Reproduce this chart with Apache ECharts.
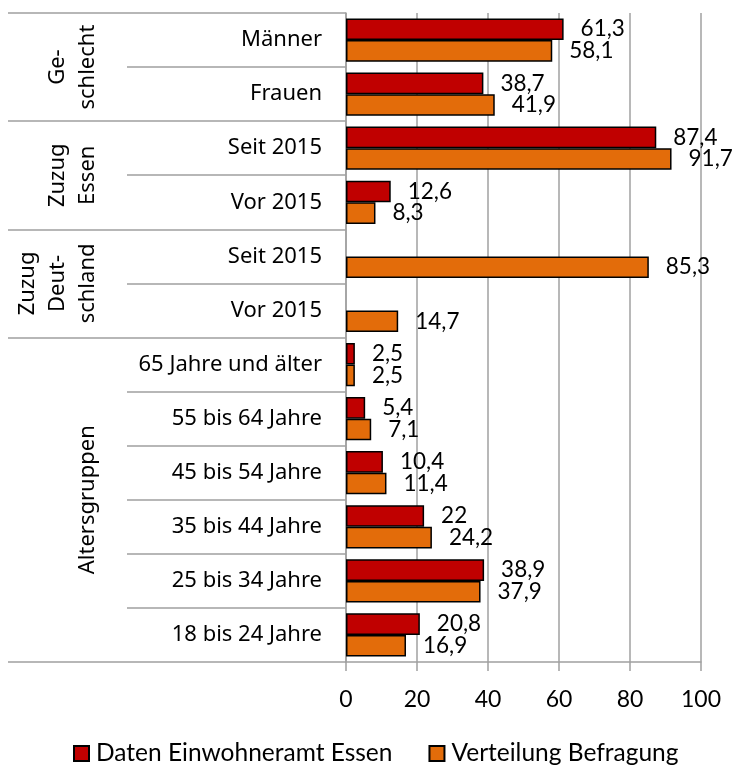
<!DOCTYPE html>
<html>
<head>
<meta charset="utf-8">
<script src="https://cdn.jsdelivr.net/npm/echarts@6/dist/echarts.min.js"></script>
<style>
    html, body { margin: 0; padding: 0; background: #fff; }
    #myChart { width: 736px; height: 767px; }
</style>
</head>
<body>
<div id="myChart"></div>
<script>
    // Kategorien (von oben nach unten)
    const categories = ['Männer', 'Frauen', 'Seit 2015', 'Vor 2015', 'Seit 2015', 'Vor 2015',
        '65 Jahre und älter', '55 bis 64 Jahre', '45 bis 54 Jahre', '35 bis 44 Jahre',
        '25 bis 34 Jahre', '18 bis 24 Jahre'];
    // Gruppen und Anzahl der Kategorien je Gruppe
    const groupNames = ['Ge-\nschlecht', 'Zuzug\nEssen', 'Zuzug\nDeut-\nschland', 'Altersgruppen'];
    const groupSizes = [2, 2, 2, 6];
    // Werte
    const einwohneramt = [61.3, 38.7, 87.4, 12.6, null, null, 2.5, 5.4, 10.4, 22, 38.9, 20.8];
    const befragung = [58.1, 41.9, 91.7, 8.3, 85.3, 14.7, 2.5, 7.1, 11.4, 24.2, 37.9, 16.9];
    const xTicks = [0, 20, 40, 60, 80, 100];

    const gray = '#a0a0a0';
    const labelFont = 'Lato';
    const catFont = '"Noto Sans"';

    // Gruppenanfänge als Index
    const groupStarts = [];
    let acc = 0;
    groupSizes.forEach(s => { groupStarts.push(acc); acc += s; });

    const chart = echarts.init(document.getElementById('myChart'));

    function valueLabel() {
        return {
            show: true,
            position: 'right',
            distance: 17,
            color: '#000',
            fontFamily: labelFont,
            fontSize: 22.5,
            formatter: p => String(p.value).replace('.', ',')
        };
    }

    let option = {
        animation: false,
        grid: { left: 346, right: 35, top: 13, bottom: 105, outerBoundsMode: 'none' },
        legend: {
            left: 73,
            top: 741,
            padding: 0,
            itemWidth: 15,
            itemHeight: 15,
            itemGap: 36,
            icon: 'rect',
            textStyle: { fontFamily: labelFont, fontSize: 24.5, color: '#000', padding: [0, 0, 0, 2] },
            data: ['Daten Einwohneramt Essen', 'Verteilung Befragung']
        },
        xAxis: {
            type: 'value',
            min: xTicks[0],
            max: xTicks[xTicks.length - 1],
            interval: 20,
            axisLine: { show: true, lineStyle: { color: gray, width: 1.5 } },
            axisTick: { show: true, length: 9, lineStyle: { color: gray, width: 1.5 } },
            splitLine: { show: true, lineStyle: { color: gray, width: 1.5 } },
            axisLabel: { margin: 26, color: '#000', fontFamily: labelFont, fontSize: 23 }
        },
        yAxis: [
            {
                type: 'category',
                inverse: true,
                data: categories,
                axisLine: { show: true, lineStyle: { color: gray, width: 1.5 } },
                axisTick: { show: true, interval: 0, length: 219, lineStyle: { color: gray, width: 1.5 } },
                axisLabel: {
                    interval: 0, margin: 24, color: '#000', fontFamily: catFont, fontSize: 22,
                    padding: [4, 0, 0, 0]
                }
            },
            {
                type: 'category',
                inverse: true,
                position: 'left',
                data: categories,
                axisLine: { show: false },
                axisTick: {
                    show: true,
                    interval: (idx) => groupStarts.indexOf(idx) >= 0,
                    length: 338,
                    lineStyle: { color: gray, width: 1.5 }
                },
                axisLabel: { show: false }
            }
        ],
        series: [
            {
                name: 'Daten Einwohneramt Essen',
                type: 'bar',
                data: einwohneramt,
                barGap: '0%',
                barCategoryGap: '20%',
                itemStyle: { color: '#C00000', borderColor: '#000', borderWidth: 1.5 },
                label: valueLabel()
            },
            {
                name: 'Verteilung Befragung',
                type: 'bar',
                data: befragung,
                barGap: '0%',
                barCategoryGap: '20%',
                itemStyle: { color: '#E36C0A', borderColor: '#000', borderWidth: 1.5 },
                label: valueLabel()
            }
        ]
    };
    chart.setOption(option);

    // Gruppenbeschriftungen (gedreht) mittig über den jeweiligen Kategorien
    const groupTexts = groupNames.map((name, i) => {
        const first = groupStarts[i];
        const last = first + groupSizes[i] - 1;
        const y = (chart.convertToPixel({ yAxisIndex: 0 }, first) +
                   chart.convertToPixel({ yAxisIndex: 0 }, last)) / 2;
        return {
            type: 'text',
            x: 103,
            y: y,
            rotation: Math.PI / 2,
            style: {
                text: name,
                fill: '#000',
                font: '22px "Noto Sans"',
                lineHeight: 30,
                align: 'center',
                verticalAlign: 'bottom'
            }
        };
    });
    chart.setOption({ graphic: groupTexts });
</script>
</body>
</html>
